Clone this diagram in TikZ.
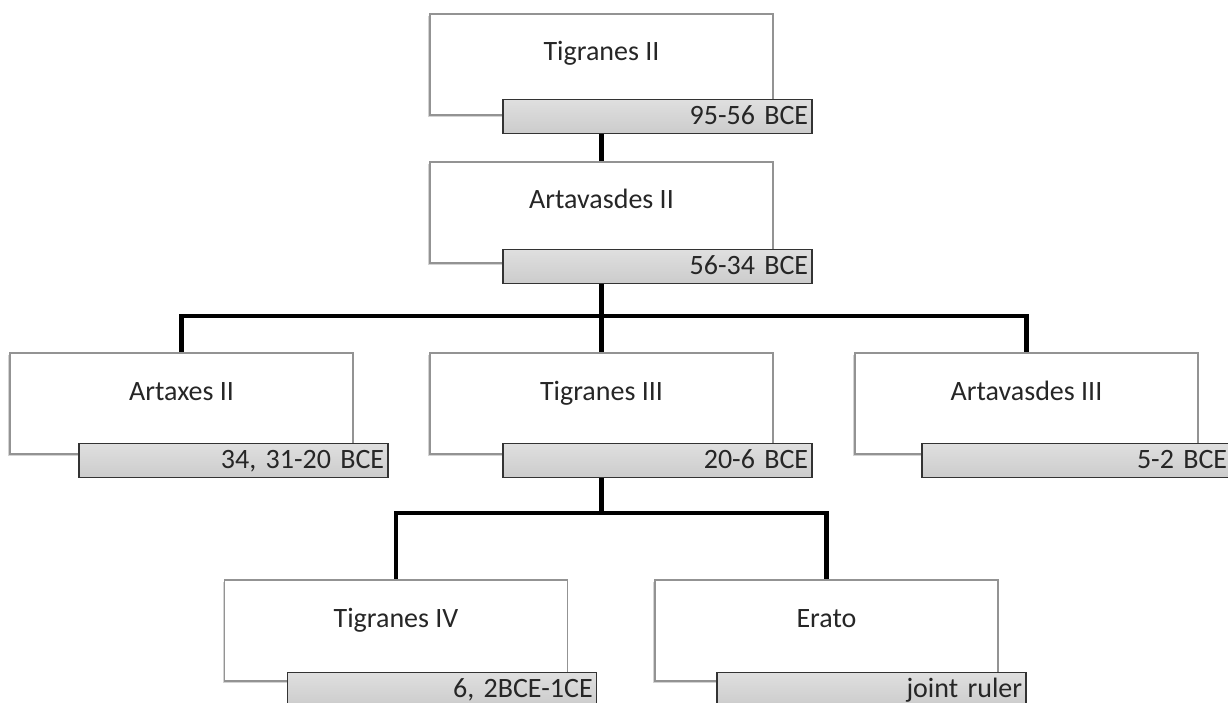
\documentclass[tikz,border=0pt]{standalone}
\usepackage{fontspec}
\setmainfont{Carlito}
\usetikzlibrary{positioning}
\usetikzlibrary{backgrounds}
\usetikzlibrary{shadows}

\tikzset{
    namebox/.style={draw=gray!85, fill=white, line width=1.2pt,
        minimum width=343pt, inner xsep=0pt, inner ysep=0pt,
        text height=47pt, text depth=54pt, text=black!85,
        font=\fontsize{28}{34}\selectfont,
        drop shadow={shadow xshift=-2pt, shadow yshift=-2pt, opacity=0.35, fill=gray}},
    datebar/.style={draw=black!80, line width=1.5pt,
        top color=gray!25, bottom color=gray!40,
        minimum width=309pt, text width=301pt, align=right,
        inner xsep=4pt, inner ysep=0pt, text height=25pt, text depth=9pt,
        text=black!85, font=\fontsize{28}{34}\selectfont},
    link/.style={line width=4.5pt, black},
}

\begin{document}
\begin{tikzpicture}[x=1pt, y=-1pt]
        \useasboundingbox (0,0) rectangle (1228,703);

        \node[namebox] (tig2) at (601.5, 64.5) {Tigranes II};
        \node[namebox] (art2) at (601.5, 212.5) {Artavasdes II};

        \node[namebox] (artx2) at (181.5, 403.5) {Artaxes II};
        \node[namebox] (tig3) at (601.5, 403.5) {Tigranes III};
        \node[namebox] (art3) at (1026.5, 403.5) {Artavasdes III};

        \node[namebox] (tig4) at (396, 630.5) {Tigranes IV};
        \node[namebox] (erato) at (826.5, 630.5) {Erato};

        \node[datebar, anchor=north west] (d-tig2) at ([shift={(73,-17)}]tig2.south west) {95-56 BCE};
        \node[datebar, anchor=north west] (d-art2) at ([shift={(73,-15)}]art2.south west) {56-34 BCE};
        \node[datebar, anchor=north west] (d-artx2) at ([shift={(69,-12)}]artx2.south west) {34, 31-20 BCE};
        \node[datebar, anchor=north west] (d-tig3) at ([shift={(73,-12)}]tig3.south west) {20-6 BCE};
        \node[datebar, anchor=north west] (d-art3) at ([shift={(67,-12)}]art3.south west) {5-2 BCE};
        \node[datebar, anchor=north west] (d-tig4) at ([shift={(63,-10)}]tig4.south west) {6, 2BCE-1CE};
        \node[datebar, anchor=north west] (d-erato) at ([shift={(62,-10)}]erato.south west) {joint ruler};

        \coordinate (fork1) at (601.5, 316);
        \coordinate (fork2) at (601.5, 513);

        \begin{pgfonlayer}{background}
            \begin{scope}[link]
                \draw (tig2.south) -- (art2.north);

                \draw (art2.south) -- (fork1);
                \draw (fork1) -- (tig3.north);
                \draw (fork1) -| (artx2.north);
                \draw (fork1) -| (art3.north);

                \draw (tig3.south) -- (fork2);
                \draw (fork2) -| (tig4.north);
                \draw (fork2) -| (erato.north);
            \end{scope}
        \end{pgfonlayer}

    \end{tikzpicture}
\end{document}
